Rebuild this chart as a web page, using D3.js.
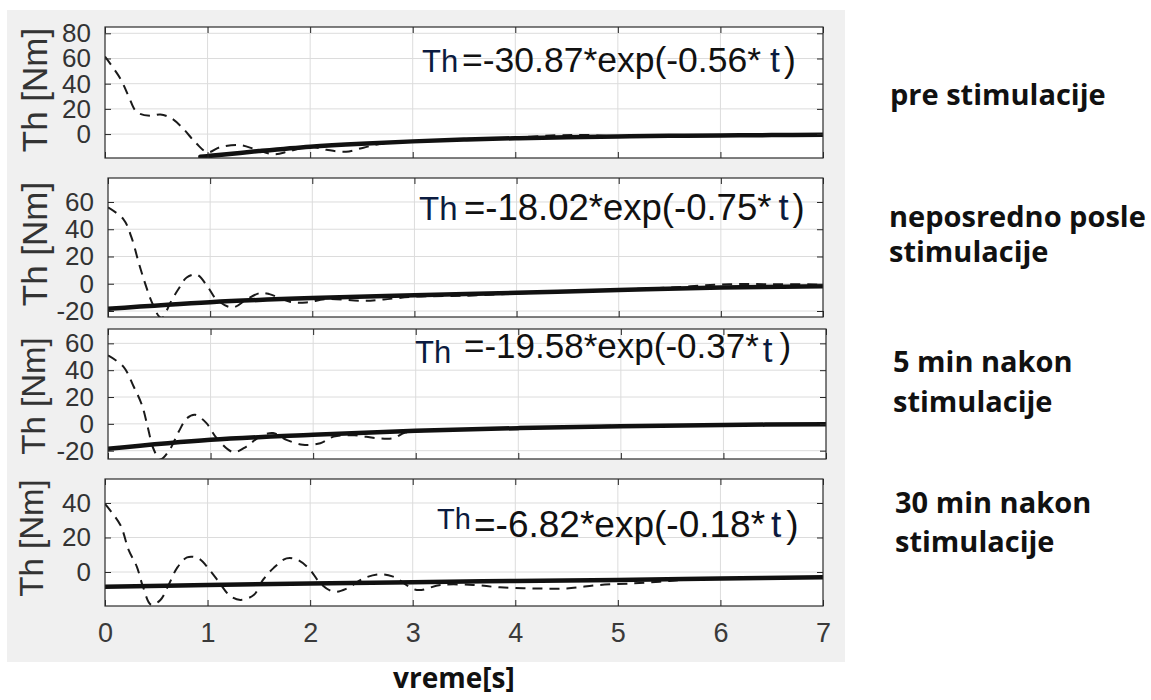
<!DOCTYPE html>
<html>

<head>
    <meta charset="utf-8">
    <title>Th fit</title>
    <script src="https://cdn.jsdelivr.net/npm/d3@7"></script>
    <style>
        body { margin: 0; background: #fff; }
    </style>
</head>

<body>
    <svg width="1151" height="700" id="mainsvg"></svg>
    <script>
        // x axis (time, s)
        const timeTicks = [0, 1, 2, 3, 4, 5, 6, 7];

        // y tick labels per panel
        const yTicks1 = [0, 20, 40, 60, 80];
        const yTicks2 = [-20, 0, 20, 40, 60];
        const yTicks3 = [-20, 0, 20, 40, 60];
        const yTicks4 = [0, 20, 40];

        // fit coefficients shown in the boxes
        const fitA = ['-30.87', '-18.02', '-19.58', '-6.82'];
        const fitK = ['-0.56', '-0.75', '-0.37', '-0.18'];

        // conditions (right side)
        const conditions = [
            ['pre stimulacije'],
            ['neposredno posle', 'stimulacije'],
            ['5 min nakon', 'stimulacije'],
            ['30 min nakon', 'stimulacije']
        ];

        // measured torque (dashed), [t, Th]
        const measured1 = [[0, 61.5], [0.15, 44], [0.23, 30], [0.31, 17.5], [0.44, 14.5], [0.54, 15.6], [0.65, 12.4],
            [0.76, 4.5], [0.89, -7.4], [1.0, -14.5], [1.12, -10.5], [1.31, -8.7], [1.48, -12.5], [1.65, -16], [1.8, -13.5],
            [2.0, -10], [2.16, -12.5], [2.35, -14], [2.52, -10.8], [2.71, -7.4], [3.0, -5.8], [3.3, -5], [3.6, -3.6],
            [3.9, -3.2], [4.4, -1], [4.7, -0.8], [5.0, -1.8], [5.5, -1.4], [6.0, -1.1], [6.5, -0.8], [7.0, -0.6]];
        const measured2 = [[0, 56], [0.15, 47.5], [0.23, 34], [0.30, 15.6], [0.36, 1], [0.43, -13.7], [0.5, -24], [0.53, -25],
            [0.62, -12.5], [0.69, -3.9], [0.77, 4.6], [0.87, 6.6], [0.98, -2.7], [1.06, -11.3], [1.22, -17.4], [1.36, -11.3],
            [1.49, -6.8], [1.58, -7.6], [1.78, -13.2], [1.94, -13.7], [2.14, -11.3], [2.5, -12.5], [2.7, -11.5], [3.0, -9.5],
            [3.5, -8.8], [4.0, -7.2], [4.5, -5.8], [5.0, -4.2], [5.5, -2.8], [6.0, -0.5], [6.5, -0.3], [7.0, -0.5]];
        const measured3 = [[0, 51], [0.15, 42.7], [0.25, 27.8], [0.33, 14.2], [0.39, -3.2], [0.44, -18], [0.51, -26.5],
            [0.6, -19.4], [0.69, -5.7], [0.77, 4.2], [0.85, 6.7], [0.96, 0.5], [1.06, -10.7], [1.22, -21], [1.35, -16.9],
            [1.48, -9.5], [1.61, -6.9], [1.74, -11.9], [1.9, -15.6], [2.07, -14.4], [2.2, -9.5], [2.4, -8.5], [2.62, -10.7],
            [2.78, -10.7], [2.9, -6.5], [3.2, -5], [3.6, -4], [4.0, -3], [4.5, -2.2], [5.0, -1.2], [5.5, -1], [6.0, -0.7],
            [6.5, -0.4], [7.0, -0.2]];
        const measured4 = [[0, 39.4], [0.15, 27.2], [0.23, 12.8], [0.31, 3.1], [0.37, -8.5], [0.45, -19], [0.54, -16.2],
            [0.62, -7.5], [0.70, 2.1], [0.80, 8.5], [0.91, 7.9], [1.02, 1.2], [1.12, -6.6], [1.22, -13.9], [1.32, -16.2],
            [1.45, -13.3], [1.54, -4.6], [1.64, 2.1], [1.77, 7.9], [1.88, 7], [2.0, 1.2], [2.1, -6.6], [2.23, -11.4],
            [2.36, -9.5], [2.52, -3.7], [2.68, -1.3], [2.81, -2.7], [3.04, -10.4], [3.27, -7.5], [3.59, -7.5], [3.85, -8.9],
            [4.17, -9.5], [4.5, -9.5], [4.82, -7.5], [5.15, -6.6], [5.41, -5.6], [5.64, -4.6], [6.0, -3.8], [7.0, -3.1]];

        // exponential fit (solid), [t, Th]
        const fit1 = [[0.93, -18], [1, -17.5], [1.5, -13.5], [2, -10], [2.5, -7.6], [3, -5.8], [3.5, -4.4], [4, -3.3],
            [4.5, -2.5], [5, -1.9], [5.5, -1.4], [6, -1.1], [6.5, -0.8], [7, -0.6]];
        const fit2 = [[0, -18.3], [1, -13.5], [2, -10.5], [3, -8.5], [4, -6.6], [5, -4.6], [6, -2.8], [7, -1.8]];
        const fit3 = [[0, -18.6], [1, -11.9], [2, -8.2], [3, -5.2], [4, -3.2], [5, -1.7], [6, -0.8], [7, -0.3]];
        const fit4 = [[0, -8.5], [1, -7.5], [2, -6.6], [3, -5.9], [4, -5.2], [5, -4.6], [6, -3.8], [7, -3.1]];

        const measured = [measured1, measured2, measured3, measured4];
        const fits = [fit1, fit2, fit3, fit4];
        const yTicks = [yTicks1, yTicks2, yTicks3, yTicks4];

        // layout of the four boxes
        const boxes = [
            { l: 105, r: 823, t: 27, b: 158, lo: -19, hi: 85, labY: 90, labX: 47, labSize: 35 },
            { l: 108, r: 823, t: 178, b: 317, lo: -24.4, hi: 77.6, labY: 244, labX: 47, labSize: 35 },
            { l: 108, r: 826, t: 329, b: 459, lo: -26.2, hi: 70.7, labY: 396, labX: 45, labSize: 33 },
            { l: 105, r: 823, t: 479, b: 606, lo: -19.7, hi: 53.9, labY: 538, labX: 43, labSize: 33 }
        ];
        const eqPos = [
            { thX: 422, thY: 72, thS: 31, x: 462, y: 72, s: 35.5, tdx: 9, tdy: 0, pdx: 4 },
            { thX: 419, thY: 220, thS: 33, x: 464, y: 220, s: 36.5, tdx: 7, tdy: 0, pdx: 4 },
            { thX: 415, thY: 363, thS: 31, x: 464, y: 358, s: 35, tdx: 4, tdy: 4, pdx: 7 },
            { thX: 437, thY: 529, thS: 29, x: 474, y: 537, s: 37, tdx: 6, tdy: 0, pdx: 5 }
        ];
        const condPos = [
            { x: 890, y: 105, lh: 0 },
            { x: 889, y: 227, lh: 35 },
            { x: 893, y: 372, lh: 40 },
            { x: 895, y: 513, lh: 39 }
        ];

        const svg = d3.select('svg');
        const axisFont = '"Liberation Sans", Arial, Helvetica, sans-serif';
        const labelFont = '"Open Sans", "Noto Sans", sans-serif';
        const navy = '#0b1b40';

        svg.append('rect').attr('width', 1151).attr('height', 700).attr('fill', '#fff');
        svg.append('rect').attr('x', 7).attr('y', 10).attr('width', 838).attr('height', 652).attr('fill', '#f0f0f0');

        const defs = svg.append('defs');

        boxes.forEach((bx, i) => {
            const x = d3.scaleLinear().domain([0, 7]).range([bx.l, bx.r]);
            const y = d3.scaleLinear().domain([bx.lo, bx.hi]).range([bx.b, bx.t]);
            const g = svg.append('g');

            defs.append('clipPath').attr('id', 'clip' + i)
                .append('rect').attr('x', bx.l).attr('y', bx.t)
                .attr('width', bx.r - bx.l).attr('height', bx.b - bx.t);

            g.append('rect').attr('x', bx.l).attr('y', bx.t)
                .attr('width', bx.r - bx.l).attr('height', bx.b - bx.t).attr('fill', '#fff');

            // grid
            g.append('g').selectAll('line').data(timeTicks.slice(1, -1)).join('line')
                .attr('x1', d => x(d)).attr('x2', d => x(d))
                .attr('y1', bx.t).attr('y2', bx.b)
                .attr('stroke', '#dcdcdc').attr('stroke-width', 1);
            g.append('g').selectAll('line').data(yTicks[i]).join('line')
                .attr('x1', bx.l).attr('x2', bx.r)
                .attr('y1', d => y(d)).attr('y2', d => y(d))
                .attr('stroke', '#dcdcdc').attr('stroke-width', 1);

            // lines
            const line = d3.line().x(d => x(d[0])).y(d => y(d[1])).curve(d3.curveCatmullRom.alpha(0.5));
            const plot = g.append('g').attr('clip-path', `url(#clip${i})`);
            plot.append('path').datum(measured[i])
                .attr('d', line).attr('fill', 'none')
                .attr('stroke', '#1a1a1a').attr('stroke-width', 2)
                .attr('stroke-dasharray', '10,7');
            plot.append('path').datum(fits[i])
                .attr('d', line).attr('fill', 'none')
                .attr('stroke', '#111').attr('stroke-width', 4.5)
                .attr('stroke-linecap', 'round');

            // inward ticks on all sides
            const tickStyle = sel => {
                sel.select('.domain').remove();
                sel.selectAll('line').attr('stroke', '#262626');
            };
            g.append('g').attr('transform', `translate(0,${bx.b})`)
                .call(d3.axisBottom(x).tickValues(timeTicks).tickSize(-6).tickFormat(''))
                .call(tickStyle);
            g.append('g').attr('transform', `translate(0,${bx.t})`)
                .call(d3.axisTop(x).tickValues(timeTicks).tickSize(-6).tickFormat(''))
                .call(tickStyle);
            g.append('g').attr('transform', `translate(${bx.r},0)`)
                .call(d3.axisRight(y).tickValues(yTicks[i]).tickSize(-6).tickFormat(''))
                .call(tickStyle);
            const yAxis = g.append('g').attr('transform', `translate(${bx.l},0)`)
                .call(d3.axisLeft(y).tickValues(yTicks[i]).tickSize(-6).tickPadding(14).tickFormat(d => String(d)))
                .call(tickStyle);
            yAxis.selectAll('text')
                .attr('font-family', axisFont).attr('font-size', 26).attr('fill', '#333');

            g.append('rect').attr('x', bx.l).attr('y', bx.t)
                .attr('width', bx.r - bx.l).attr('height', bx.b - bx.t)
                .attr('fill', 'none').attr('stroke', '#2b2b2b').attr('stroke-width', 1.2);

            // y label
            g.append('text')
                .attr('transform', `translate(${bx.labX},${bx.labY}) rotate(-90)`)
                .attr('text-anchor', 'middle')
                .attr('font-family', axisFont).attr('font-size', bx.labSize).attr('fill', '#333')
                .text('Th [Nm]');

            // fit equation
            const ep = eqPos[i];
            g.append('text').attr('x', ep.thX).attr('y', ep.thY)
                .attr('font-family', axisFont).attr('font-size', ep.thS).attr('fill', navy)
                .text('Th');
            const eq = g.append('text').attr('x', ep.x).attr('y', ep.y)
                .attr('font-family', axisFont).attr('font-size', ep.s).attr('fill', '#111');
            eq.append('tspan').text(`=${fitA[i]}*exp(${fitK[i]}*`);
            eq.append('tspan').attr('dx', ep.tdx).attr('dy', ep.tdy).attr('fill', navy).text('t');
            eq.append('tspan').attr('dx', ep.pdx).attr('dy', -ep.tdy).text(')');

            // x tick labels on bottom panel only
            if (i === boxes.length - 1) {
                const xAxis = g.append('g').attr('transform', `translate(0,${bx.b})`)
                    .call(d3.axisBottom(x).tickValues(timeTicks).tickSize(0).tickPadding(17).tickFormat(d3.format('d')))
                    .call(tickStyle);
                xAxis.selectAll('text')
                    .attr('font-family', axisFont).attr('font-size', 27).attr('fill', '#3a3a3a');
            }

            // condition label
            const cp = condPos[i];
            svg.append('text')
                .attr('font-family', labelFont).attr('font-weight', 700)
                .attr('font-size', 29).attr('fill', '#111')
                .selectAll('tspan').data(conditions[i]).join('tspan')
                .attr('x', cp.x).attr('y', (d, j) => cp.y + j * cp.lh)
                .text(d => d);
        });

        svg.append('text').attr('x', 393).attr('y', 688)
            .attr('font-family', labelFont).attr('font-weight', 700)
            .attr('font-size', 28).attr('fill', '#111')
            .text('vreme[s]');
    </script>
</body>

</html>
